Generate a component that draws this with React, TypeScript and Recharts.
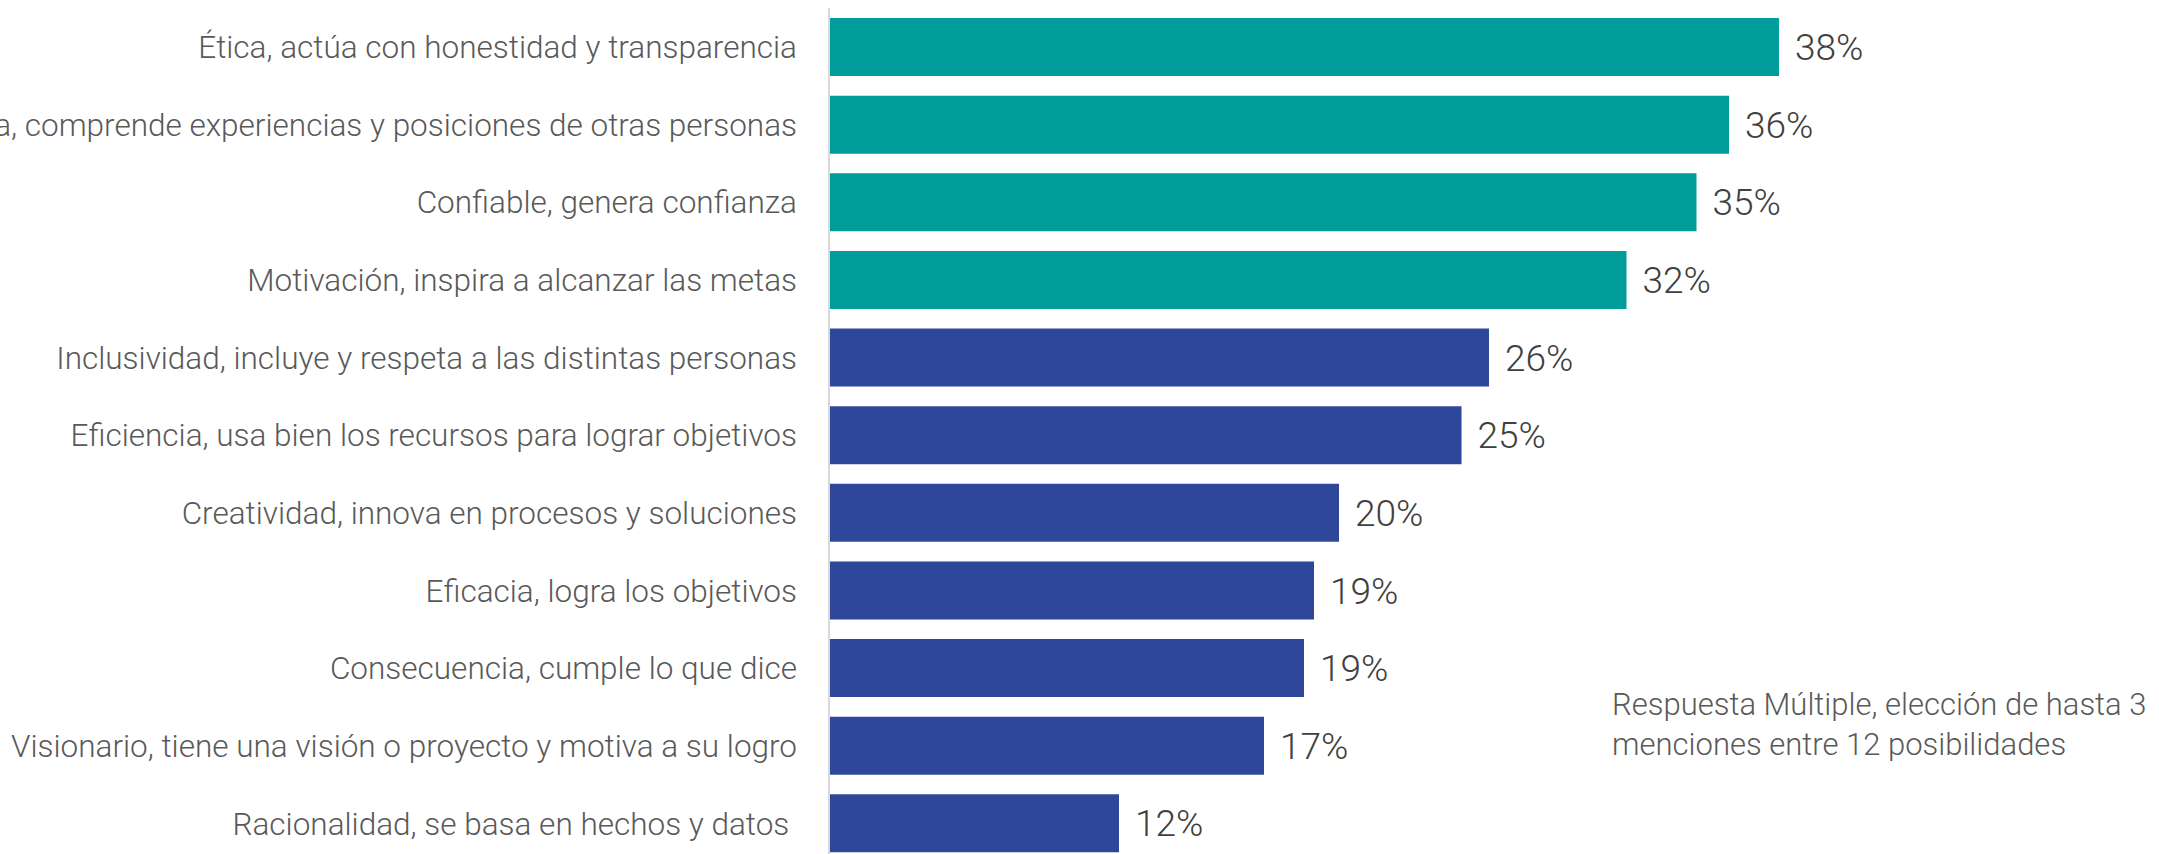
import { Bar, BarChart, Cell, LabelList, XAxis, YAxis } from "recharts";

const categories = [
  "Ética, actúa con honestidad y transparencia",
  "Empatía, comprende experiencias y posiciones de otras personas",
  "Confiable, genera confianza",
  "Motivación, inspira a alcanzar las metas",
  "Inclusividad, incluye y respeta a las distintas personas",
  "Eficiencia, usa bien los recursos para lograr objetivos",
  "Creatividad, innova en procesos y soluciones",
  "Eficacia, logra los objetivos",
  "Consecuencia, cumple lo que dice",
  "Visionario, tiene una visión o proyecto y motiva a su logro",
  "Racionalidad, se basa en hechos y datos\u00a0"
];

// bar lengths (labels show the rounded figure)
const values = [38.0, 36.0, 34.7, 31.9, 26.4, 25.3, 20.4, 19.4, 19.0, 17.4, 11.6];

// the first four attributes are highlighted in teal
const topCount = 4;

const noteLines = ["Respuesta Múltiple, elección de hasta 3", "menciones entre 12 posibilidades"];

const TEAL = "#019d9b";
const BLUE = "#2f479b";
const FONT = "Roboto, 'Noto Sans', sans-serif";

const data = categories.map((label, i) => ({ label, value: values[i] }));

function CategoryTick({ x, y, payload }: any) {
  return (
    <text x={x} y={y} dy="0.36em" textAnchor="end" fill="#595959" fontSize={31.5} fontFamily={FONT} fontWeight={300}>
      {payload.value}
    </text>
  );
}

export default function App() {
  return (
    <div style={{ position: "absolute", left: 0, top: 0, width: 2159, height: 854, overflow: "hidden", background: "#fff" }}>
      <BarChart
        width={2159}
        height={862}
        data={data}
        layout="vertical"
        margin={{ top: 8, right: 80, bottom: 0, left: 0 }}
      >
        <XAxis type="number" domain={[0, 50]} hide />
        <YAxis
          type="category"
          dataKey="label"
          width={829}
          interval={0}
          tickLine={false}
          tickSize={0}
          tickMargin={32}
          axisLine={{ stroke: "#d9d9d9", strokeWidth: 2 }}
          tick={<CategoryTick />}
        />
        <Bar dataKey="value" barSize={58} isAnimationActive={false}>
          {data.map((d, i) => (
            <Cell key={d.label} fill={i < topCount ? TEAL : BLUE} />
          ))}
          <LabelList
            dataKey="value"
            position="right"
            offset={16}
            formatter={(v: any) => `${Math.round(Number(v))}%`}
            fill="#404040"
            fontSize={37}
            fontFamily={FONT}
            fontWeight={300}
          />
        </Bar>
      </BarChart>
      <div
        style={{
          position: "absolute",
          left: 1612,
          top: 685,
          fontFamily: FONT,
          fontWeight: 300,
          fontSize: 31,
          lineHeight: "40px",
          color: "#595959",
          whiteSpace: "nowrap"
        }}
      >
        {noteLines.map((line) => (
          <div key={line}>{line}</div>
        ))}
      </div>
    </div>
  );
}
